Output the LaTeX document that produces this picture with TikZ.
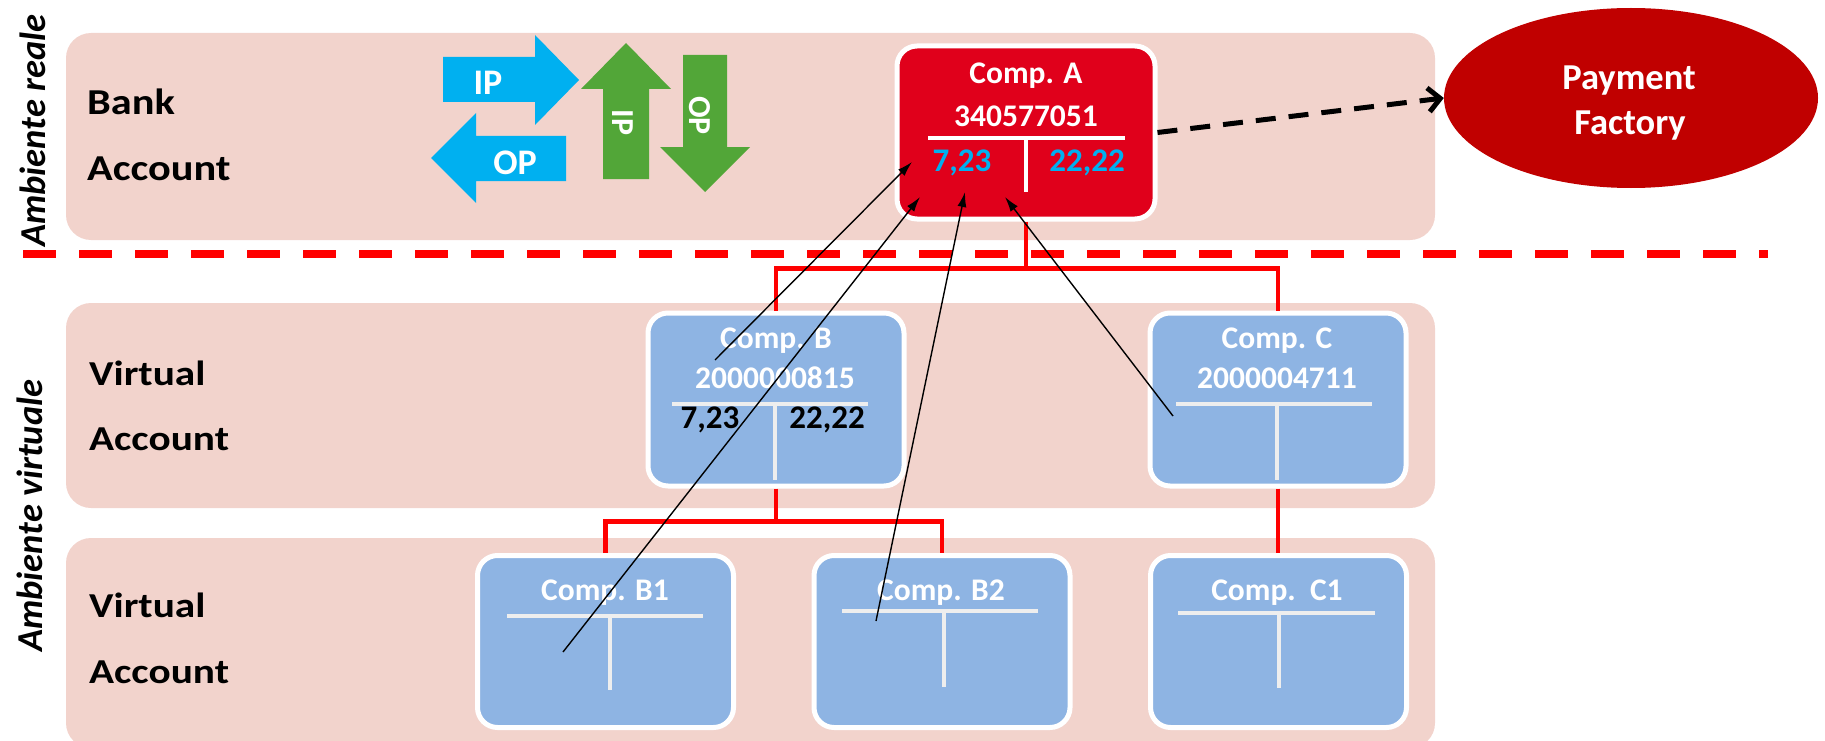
\documentclass[tikz,border=0pt]{standalone}
\usepackage{fontspec}
\setmainfont{Carlito}
\usetikzlibrary{shapes.geometric,arrows.meta}
\definecolor{band}{HTML}{F2D3CC}
\definecolor{boxblue}{HTML}{8EB4E3}
\definecolor{compred}{HTML}{E0001B}
\definecolor{pfred}{HTML}{C00000}
\definecolor{ipblue}{HTML}{00B0F0}
\definecolor{ipgreen}{HTML}{52A638}
\definecolor{tgrey}{HTML}{EEEEEE}
\definecolor{conred}{HTML}{FF0000}
\newcommand\fsz[1]{\fontsize{#1}{#1}\selectfont}
\newcommand\hsc[2]{\scalebox{#1}[1]{#2}}
\begin{document}
\begin{tikzpicture}[x=1pt,y=-1pt,
  lbl/.style={inner sep=0pt, anchor=base west, font=\fsz{36.5}\bfseries},
  vlbl/.style={inner sep=0pt, anchor=base west, font=\fsz{35}\bfseries},
  amb/.style={inner sep=0pt, anchor=base west, rotate=90, font=\fsz{36.5}\bfseries\itshape},
  comptxt/.style={inner sep=0pt, anchor=base, text=white, font=\fsz{31.5}\bfseries},
  valtxt/.style={inner sep=0pt, anchor=base, font=\fsz{33}\bfseries},
  arrtxt/.style={inner sep=0pt, anchor=base, text=white, font=\fsz{36}\bfseries},
  garrtxt/.style={inner sep=0pt, anchor=center, rotate=-90, text=white, font=\fsz{32}\bfseries},
  compbox/.style={draw=white, line width=5pt, rounded corners=20pt, fill=boxblue,
    minimum width=256pt, minimum height=173pt, inner sep=0pt},
  tline/.style={draw=tgrey, line width=3.5pt},
  redcon/.style={draw=conred, line width=4.5pt},
  link/.style={draw=black, line width=1.4pt, -{Latex[length=15pt,width=9pt]}},
  bandbox/.style={fill=band, rounded corners=25pt},
]
\useasboundingbox (0,0) rectangle (1825,741);
% bands
\fill[bandbox] (66,33) rectangle (1435,240);
\fill[bandbox] (66,303) rectangle (1435,508);
\fill[bandbox] (66,538) rectangle (1435,748);
% side titles
\node[amb] (amb1) at (45,247) {Ambiente reale};
\node[amb] (amb2) at (42,652) {Ambiente virtuale};
% row labels
\node[lbl] (bank) at (87,115) {\hsc{1.16}{Bank}};
\node[lbl] (bacc) at (87,180) {\hsc{1.16}{Account}};
\node[vlbl] (v1) at (89,385) {\hsc{1.18}{Virtual}};
\node[vlbl] (v1a) at (89,450) {\hsc{1.18}{Account}};
\node[vlbl] (v2) at (89,617) {\hsc{1.18}{Virtual}};
\node[vlbl] (v2a) at (89,683) {\hsc{1.18}{Account}};
% separator
\coordinate (sepL) at (23,254);
\coordinate (sepR) at (1768,254);
\draw[conred, line width=8pt, dash pattern=on 33pt off 23pt] (sepL) -- (sepR);
% blue arrows
\fill[ipblue] (443,57) -- (535,57) -- (535,35) -- (579,80) -- (535,125) -- (535,102) -- (443,102) -- cycle;
\fill[ipblue] (566,136) -- (476,136) -- (476,113) -- (431,158) -- (476,203) -- (476,181) -- (566,181) -- cycle;
\node[arrtxt] (ipt) at (488,95) {IP};
\node[arrtxt] (opt) at (515,175) {OP};
% green arrows
\fill[ipgreen] (603,179) -- (603,89) -- (581,89) -- (626,43) -- (671,89) -- (649,89) -- (649,179) -- cycle;
\fill[ipgreen] (683,55) -- (727,55) -- (727,147) -- (750,147) -- (705,192) -- (660,147) -- (683,147) -- cycle;
\node[garrtxt] (gip) at (622.5,122.5) {IP};
\node[garrtxt] (gop) at (700,115.5) {OP};
% Payment factory
\node[ellipse, fill=pfred, minimum width=374pt, minimum height=180pt, inner sep=0pt] (PF) at (1631,98) {};
\node[arrtxt, font=\fsz{36.5}\bfseries] (pf1) at (1629,90) {Payment};
\node[arrtxt, font=\fsz{36.5}\bfseries] (pf2) at (1630,135) {Factory};
% boxes
\node[compbox, fill=compred, minimum width=258pt] (A) at (1026,132.5) {};
\node[compbox] (B) at (776,399.5) {};
\node[compbox] (C) at (1278,399.5) {};
\node[compbox, minimum height=172pt] (B1) at (605.5,641.5) {};
\node[compbox, minimum height=172pt] (B2) at (942,641.5) {};
\node[compbox, minimum height=172pt] (C1) at (1278.5,641.5) {};
% red tree connectors
\draw[redcon] (A.south) -- ++(0,47) coordinate (Ajoin) -| (B.north);
\draw[redcon] (Ajoin) -| (C.north);
\draw[redcon] (B.south) -- ++(0,33) coordinate (Bjoin) -| (B1.north);
\draw[redcon] (Bjoin) -| (B2.north);
\draw[redcon] (C.south) -- (C.south |- C1.north);
% Comp A content
\node[comptxt] (an) at (1026,84) {Comp. A};
\node[comptxt] (anum) at (1026,127) {340577051};
\draw[draw=white, line width=4pt] (928,138.5) -- (1125,138.5);
\draw[draw=white, line width=4pt] (1026,138.5) -- (1026,192);
\node[valtxt, text=ipblue] (al) at (962,171) {7,23};
\node[valtxt, text=ipblue] (ar) at (1087,171) {22,22};
% Comp B content
\node[comptxt] (bn) at (776,348) {Comp. B};
\node[comptxt] (bnum) at (775,388) {2000000815};
\draw[tline] (672,404) -- (868,404);
\draw[tline] (775,404) -- (775,480);
\node[valtxt] (bl) at (710,428) {7,23};
\node[valtxt] (br) at (827,428) {22,22};
% Comp C content
\node[comptxt] (cn) at (1277,348) {Comp. C};
\node[comptxt] (cnum) at (1277,388) {2000004711};
\draw[tline] (1176,404) -- (1372,404);
\draw[tline] (1277,404) -- (1277,480);
% B1, B2, C1 content
\node[comptxt] (b1n) at (605,600) {Comp. B1};
\draw[tline] (507,616) -- (703,616);
\draw[tline] (610,616) -- (610,690);
\node[comptxt] (b2n) at (941,600) {Comp. B2};
\draw[tline] (842,611) -- (1038,611);
\draw[tline] (944,611) -- (944,687);
\node[comptxt] (c1n) at (1277,600) {Comp.\ \ C1};
\draw[tline] (1178,613) -- (1375,613);
\draw[tline] (1279,613) -- (1279,688);
% dashed arrow to Payment Factory
\draw[black, line width=5pt, dash pattern=on 20pt off 13pt, -{Straight Barb[length=12pt,width=24pt]}] (A.east) -- (PF.west);
% black link arrows
\coordinate (s1) at (715,360); \coordinate (t1) at (912,162);
\coordinate (s2) at (563,652); \coordinate (t2) at (920,197);
\coordinate (s3) at (876,621); \coordinate (t3) at (965,192);
\coordinate (s4) at (1173,416); \coordinate (t4) at (1005,197);
\draw[link] (s1) -- (t1);
\draw[link] (s2) -- (t2);
\draw[link] (s3) -- (t3);
\draw[link] (s4) -- (t4);
\end{tikzpicture}
\end{document}
